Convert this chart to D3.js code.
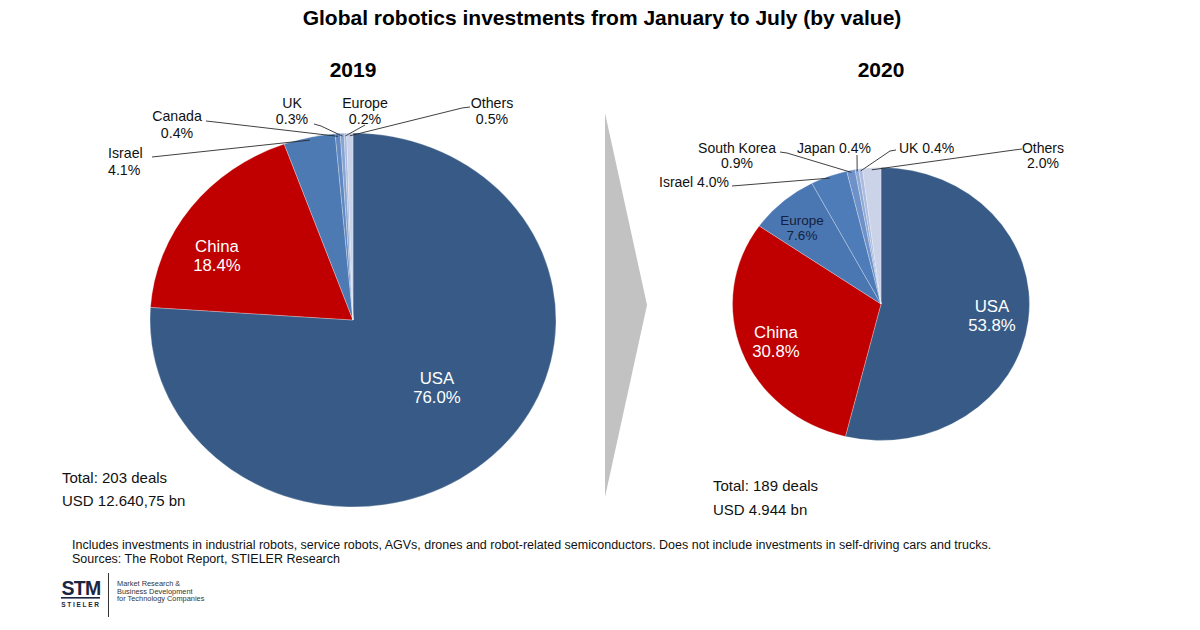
<!DOCTYPE html>
<html><head><meta charset="utf-8">
<script src="https://cdn.jsdelivr.net/npm/d3@7"></script>
<style>
html,body{margin:0;padding:0;background:#fff;}
svg{display:block;font-family:"Liberation Sans",Arial,Helvetica,sans-serif;}
</style></head>
<body>
<svg id="chart" width="1200" height="630"></svg>
<script>
// ---------- data ----------
const title = "Global robotics investments from January to July (by value)";
const years = ["2019", "2020"];
const regions2019 = ["USA", "China", "Israel", "Canada", "UK", "Europe", "Others"];
const values2019 = [76.0, 18.4, 4.1, 0.4, 0.3, 0.2, 0.5];
const regions2020 = ["USA", "China", "Europe", "Israel", "South Korea", "Japan", "UK", "Others"];
const values2020 = [53.8, 30.8, 7.6, 4.0, 0.9, 0.4, 0.4, 2.0];
const totals2019 = ["Total: 203 deals", "USD 12.640,75 bn"];
const totals2020 = ["Total: 189 deals", "USD 4.944 bn"];
const footnotes = [
  "Includes investments in industrial robots, service robots, AGVs, drones and robot-related semiconductors. Does not include investments in self-driving cars and trucks.",
  "Sources: The Robot Report, STIELER Research"
];

// ---------- styles / layout ----------
const colors2019 = {USA:"#375b86", China:"#c00000", Israel:"#4e7ab4", Canada:"#5f87c0", UK:"#86a3d2", Europe:"#a9bbdf", Others:"#c9d2e8"};
const colors2020 = {USA:"#375b86", China:"#c00000", Europe:"#4a77b2", Israel:"#4e7cb8", "South Korea":"#6d91c8", Japan:"#8ea9d6", UK:"#aabbdf", Others:"#cad3e8"};
const fmt = v => v.toFixed(1) + "%";

const svg = d3.select("#chart");

svg.append("text").attr("x", 602).attr("y", 25).attr("text-anchor", "middle")
  .attr("font-size", 21).attr("font-weight", "bold").attr("fill", "#000").text(title);

// arrow
svg.append("path").attr("d", "M605,113 L647,305 L605,497 Z").attr("fill", "#c2c2c2");

function drawPie(cfg) {
  const data = cfg.regions.map((r, i) => ({region: r, value: cfg.values[i]}));
  const pie = d3.pie().sort(null).value(d => d.value).startAngle(0).endAngle(2 * Math.PI);
  const arcs = pie(data);
  const sy = cfg.ry / cfg.rx;
  const arc = d3.arc().innerRadius(0).outerRadius(cfg.rx);
  const g = svg.append("g").attr("transform", `translate(${cfg.cx},${cfg.cy}) scale(1,${sy})`);
  g.selectAll("path").data(arcs).join("path")
    .attr("d", arc)
    .attr("fill", d => cfg.colors[d.data.region])
    .attr("stroke", "rgba(255,255,255,0.45)")
    .attr("stroke-width", 0.6)
    .attr("vector-effect", "non-scaling-stroke");

  const edgePoint = (d, f) => {
    const a = (d.startAngle + d.endAngle) / 2;
    const r = cfg.rx * f;
    return [cfg.cx + r * Math.sin(a), cfg.cy - r * Math.cos(a) * sy];
  };

  svg.append("text").attr("x", cfg.cx).attr("y", 77).attr("text-anchor", "middle")
    .attr("font-size", 21).attr("font-weight", "bold").text(cfg.year);

  arcs.forEach(d => {
    const L = cfg.labels[d.data.region];
    if (!L) return;
    const lines = L.inline ? [d.data.region + " " + fmt(d.data.value)] : [d.data.region, fmt(d.data.value)];
    const t = svg.append("text")
      .attr("text-anchor", L.anchor || "middle")
      .attr("font-size", L.size)
      .attr("fill", L.color || "#111");
    lines.forEach((s, i) => {
      t.append("tspan").attr("x", L.x).attr("y", L.y + i * L.lh).text(s);
    });
    if (L.leader) {
      const end = edgePoint(d, 0.985);
      const pts = L.leader.concat([end]);
      svg.append("path").attr("d", d3.line()(pts))
        .attr("fill", "none").attr("stroke", "#2a2a2a").attr("stroke-width", 0.9);
    }
  });

  cfg.totals.forEach((s, i) => {
    svg.append("text").attr("x", cfg.totX).attr("y", cfg.totY + i * cfg.totLH)
      .attr("font-size", 15).attr("fill", "#111").text(s);
  });
}

drawPie({
  year: years[0], regions: regions2019, values: values2019, colors: colors2019,
  cx: 353, cy: 320, rx: 203, ry: 187,
  totals: totals2019, totX: 62, totY: 483, totLH: 23,
  labels: {
    USA:    {x: 437, y: 384, lh: 19, size: 16.8, color: "#fff"},
    China:  {x: 217, y: 252, lh: 19, size: 16.8, color: "#fff"},
    Israel: {x: 108, y: 158, lh: 17, size: 14.2, anchor: "start", leader: [[152, 157]]},
    Canada: {x: 177, y: 121, lh: 17, size: 14.2, leader: [[206, 121], [215, 122]]},
    UK:     {x: 292, y: 108, lh: 16, size: 14.2, leader: [[314, 124], [321, 126]]},
    Europe: {x: 365, y: 108, lh: 16, size: 14.2, leader: [[365, 125]]},
    Others: {x: 492, y: 108, lh: 16, size: 14.2, leader: [[470, 107], [462, 108]]}
  }
});

drawPie({
  year: years[1], regions: regions2020, values: values2020, colors: colors2020,
  cx: 881, cy: 304, rx: 148.5, ry: 136.5,
  totals: totals2020, totX: 713, totY: 491, totLH: 24,
  labels: {
    USA:    {x: 992, y: 312, lh: 19, size: 16.8, color: "#fff"},
    China:  {x: 776, y: 338, lh: 19, size: 16.8, color: "#fff"},
    Europe: {x: 802, y: 225, lh: 15, size: 13.5, color: "#14213d"},
    Israel: {x: 659, y: 187, lh: 15, size: 14, anchor: "start", inline: true, leader: [[732, 186]]},
    "South Korea": {x: 737, y: 153, lh: 15, size: 14, leader: [[780, 152], [787, 153]]},
    Japan:  {x: 834, y: 153, lh: 15, size: 14, inline: true, leader: [[857, 155]]},
    UK:     {x: 899, y: 153, lh: 15, size: 14, anchor: "start", inline: true, leader: [[896, 150], [890, 151]]},
    Others: {x: 1043, y: 153, lh: 15, size: 14, leader: [[1022, 149], [1014, 150]]}
  }
});

// footnotes
footnotes.forEach((s, i) => {
  svg.append("text").attr("x", 72).attr("y", 549 + i * 14).attr("font-size", 12.5).attr("fill", "#111").text(s);
});

// logo
const logo = svg.append("g");
logo.append("text").attr("x", 81).attr("y", 595).attr("text-anchor", "middle")
  .attr("font-size", 19.5).attr("font-weight", "bold").attr("fill", "#1b2540").attr("letter-spacing", -0.8).text("STM");
logo.append("rect").attr("x", 61).attr("y", 597).attr("width", 39).attr("height", 1.6).attr("fill", "#1b2540");
logo.append("text").attr("x", 81).attr("y", 607).attr("text-anchor", "middle")
  .attr("font-size", 6.5).attr("font-weight", "bold").attr("fill", "#1b2540").attr("letter-spacing", 1.7).text("STIELER");
logo.append("line").attr("x1", 108.5).attr("x2", 108.5).attr("y1", 573).attr("y2", 617)
  .attr("stroke", "#333").attr("stroke-width", 1);
["Market Research &", "Business Development", "for Technology Companies"].forEach((s, i) => {
  logo.append("text").attr("x", 117).attr("y", 586 + i * 7.5).attr("font-size", 7.4)
    .attr("fill", "#333").text(s);
});
</script>
</body></html>
